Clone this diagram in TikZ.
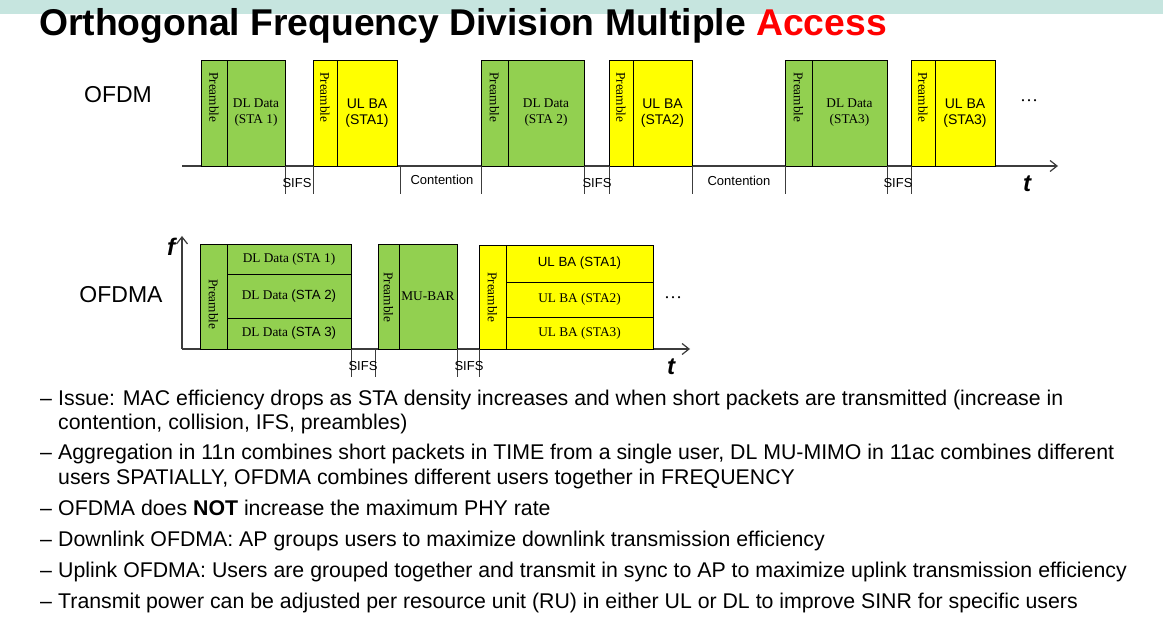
\documentclass[tikz,border=0pt]{standalone}
\usepackage{fontspec}
\setmainfont{Liberation Sans}
\newfontfamily\tnr{Liberation Serif}
\newfontfamily\arl{Liberation Sans}
\usepackage{graphicx}
\usetikzlibrary{arrows.meta}

\definecolor{ofgreen}{RGB}{146,208,80}
\definecolor{ofyellow}{RGB}{255,255,0}
\definecolor{band}{RGB}{198,229,223}
\definecolor{axisgray}{RGB}{60,60,60}

\begin{document}
\begin{tikzpicture}[x=1pt,y=-1pt,
    box/.style={draw=black,line width=0.9pt,inner sep=0pt,outer sep=0pt,anchor=north west,align=center,
      font=\tnr\fontsize{13.3}{16}\selectfont},
    gbox/.style={box,fill=ofgreen},
    ybox/.style={box,fill=ofyellow},
    sbox/.style={font=\arl\fontsize{14}{16}\selectfont},
    pretxt/.style={inner sep=0pt,anchor=north,font=\tnr\fontsize{13.3}{16}\selectfont},
    tick/.style={line width=1pt,draw=axisgray},
    axis/.style={line width=1.2pt,draw=axisgray,-{Straight Barb[length=7pt,width=11pt]}},
    lab/.style={inner sep=0pt,font=\arl\fontsize{13}{16}\selectfont},
    var/.style={inner sep=0pt,anchor=base,font=\arl\bfseries\itshape\fontsize{24}{28}\selectfont},
    more/.style={inner sep=0pt,anchor=base,font=\tnr\fontsize{18}{20}\selectfont},
    bul/.style={inner sep=0pt,anchor=base west,font=\fontsize{21.3}{24}\selectfont}]

  \useasboundingbox (0,0) rectangle (1163,628);
  \fill[white] (0,0) rectangle (1163,628);
  \fill[band] (0,0) rectangle (1163,14);

  \node[anchor=base west,inner sep=0pt,font=\bfseries\fontsize{37.3}{40}\selectfont] (title) at (39,36)
    {Orthogonal Frequency Division Multiple \textcolor{red}{Access}};

  % OFDM
  \node[inner sep=0pt,font=\fontsize{23}{26}\selectfont] (ofdm) at (118,95) {OFDM};
  \coordinate (o1) at (182,166);
  \coordinate (t1) at (1058,166);
  \draw[axis] (o1) -- (t1);

  \node[gbox,minimum width=26,minimum height=106] (pa) at (201,60) {};
  \node[gbox,minimum width=58,minimum height=106] (da) at (227,60) {DL Data\\(STA 1)};
  \node[ybox,minimum width=24,minimum height=106] (pb) at (313,60) {};
  \node[ybox,sbox,minimum width=60,minimum height=106] (ua) at (337,60) {UL BA\\(STA1)};
  \node[gbox,minimum width=27,minimum height=106] (pc) at (481,60) {};
  \node[gbox,minimum width=76,minimum height=106] (db) at (508,60) {DL Data\\(STA 2)};
  \node[ybox,minimum width=24,minimum height=106] (pd) at (609,60) {};
  \node[ybox,sbox,minimum width=59,minimum height=106] (ub) at (633,60) {UL BA\\(STA2)};
  \node[gbox,minimum width=27,minimum height=106] (pe) at (785,60) {};
  \node[gbox,minimum width=75,minimum height=106] (dc) at (812,60) {DL Data\\(STA3)};
  \node[ybox,minimum width=24,minimum height=106] (pf) at (911,60) {};
  \node[ybox,sbox,minimum width=60,minimum height=106] (uc) at (935,60) {UL BA\\(STA3)};

  \foreach \p in {pa,pb,pc,pd,pe,pf}
    \node[pretxt] (\p txt) at ([yshift=-12pt]\p.north) {\rotatebox{-90}{Preamble}};

  \draw[tick] (da.south east) -- ++(0,28);
  \draw[tick] (pb.south west) -- ++(0,28);
  \draw[tick] ([xshift=3pt]ua.south east) -- ++(0,28);
  \draw[tick] (pc.south west) -- ++(0,28);
  \draw[tick] (db.south east) -- ++(0,28);
  \draw[tick] (pd.south west) -- ++(0,28);
  \draw[tick] (ub.south east) -- ++(0,28);
  \draw[tick] (pe.south west) -- ++(0,28);
  \draw[tick] (dc.south east) -- ++(0,28);
  \draw[tick] (pf.south west) -- ++(0,28);

  \node[lab] (sifsa) at (297,183) {SIFS};
  \node[lab] (conta) at (442,180) {Contention};
  \node[lab] (sifsb) at (597,183) {SIFS};
  \node[lab] (contb) at (739,181) {Contention};
  \node[lab] (sifsc) at (898,183) {SIFS};
  \node[more] (dotsa) at (1029,102) {\ldots};
  \node[var] (ta) at (1027,192) {t};

  % OFDMA
  \node[inner sep=0pt,font=\fontsize{23}{26}\selectfont] (ofdma) at (121,295) {OFDMA};
  \coordinate (o2) at (182,349);
  \coordinate (f2) at (182,236);
  \coordinate (t2) at (690,349);
  \draw[axis] (o2) -- (f2);
  \draw[axis] (o2) -- (t2);

  \node[gbox,minimum width=27,minimum height=105] (qa) at (200,244) {};
  \node[gbox,minimum width=124,minimum height=30] (ra) at (227,244) {DL Data (STA 1)};
  \node[gbox,minimum width=124,minimum height=44] (rb) at (227,274) {DL Data {\arl(STA 2)}};
  \node[gbox,minimum width=124,minimum height=31] (rc) at (227,318) {DL Data {\arl(STA 3)}};
  \node[gbox,minimum width=21,minimum height=105] (qb) at (378,244) {};
  \node[gbox,minimum width=58,minimum height=105] (mb) at (399,244) {MU-BAR};
  \node[ybox,minimum width=27,minimum height=104] (qc) at (479,245) {};
  \node[ybox,minimum width=147,minimum height=37] (va) at (506,245) {\arl UL BA (STA1)};
  \node[ybox,minimum width=147,minimum height=35] (vb) at (506,282) {UL BA (STA2)};
  \node[ybox,minimum width=147,minimum height=32] (vc) at (506,317) {UL BA (STA3)};

  \node[pretxt] (qatxt) at ([yshift=-35pt]qa.north) {\rotatebox{-90}{Preamble}};
  \node[pretxt] (qbtxt) at ([yshift=-28pt]qb.north) {\rotatebox{-90}{Preamble}};
  \node[pretxt] (qctxt) at ([yshift=-27pt]qc.north) {\rotatebox{-90}{Preamble}};

  \draw[tick] (rc.south east) -- ++(0,28);
  \draw[tick] ([xshift=-3pt]qb.south west) -- ++(0,28);
  \draw[tick] (mb.south east) -- ++(0,28);
  \draw[tick] (qc.south west) -- ++(0,28);

  \node[lab] (sifsd) at (363,366) {SIFS};
  \node[lab] (sifse) at (469,366) {SIFS};
  \node[more] (dotsb) at (673,299) {\ldots};
  \node[var] (tb) at (671,375) {t};
  \node[var] (fb) at (171,256) {f};

  % bullets
  \foreach \y in {406,460,515,546,577,608}
    \node[bul] at (40,\y) {--};
  \node[bul] (ba) at (58,406) {Issue: MAC efficiency drops as STA density increases and when short packets are transmitted (increase in};
  \node[bul] (bb) at (58,430) {contention, collision, IFS, preambles)};
  \node[bul] (bc) at (58,460) {Aggregation in 11n combines short packets in TIME from a single user, DL MU-MIMO in 11ac combines different};
  \node[bul] (bd) at (58,484) {users SPATIALLY, OFDMA combines different users together in FREQUENCY};
  \node[bul] (be) at (58,515) {OFDMA does \textbf{NOT} increase the maximum PHY rate};
  \node[bul] (bf) at (58,546) {Downlink OFDMA: AP groups users to maximize downlink transmission efficiency};
  \node[bul] (bg) at (58,577) {Uplink OFDMA: Users are grouped together and transmit in sync to AP to maximize uplink transmission efficiency};
  \node[bul] (bh) at (58,608) {Transmit power can be adjusted per resource unit (RU) in either UL or DL to improve SINR for specific users};
\end{tikzpicture}
\end{document}
